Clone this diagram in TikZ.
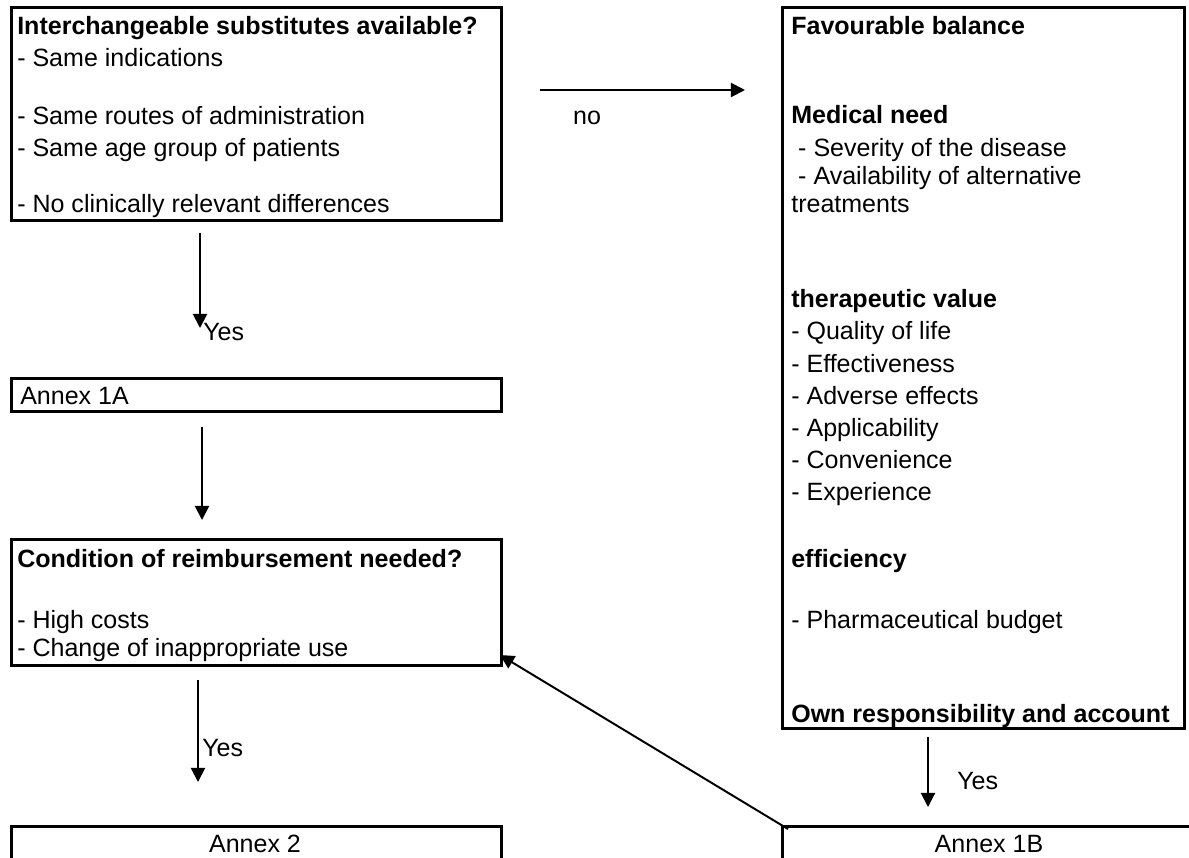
\documentclass[tikz,border=0pt]{standalone}
\usepackage{fontspec}
\setmainfont{Liberation Sans}
\usetikzlibrary{arrows.meta}

\begin{document}
\begin{tikzpicture}[
    x=0.025cm, y=-0.025cm,
    % Define styles
    box/.style={
        rectangle,
        draw,
        line width=1.9pt,
        inner sep=0pt,
        anchor=north west
    },
    plaintext/.style={
        anchor=base west,
        inner sep=0pt,
        font=\fontsize{17.8pt}{21pt}\selectfont
    },
    headtext/.style={
        plaintext,
        font=\fontsize{17.8pt}{21pt}\selectfont\bfseries
    },
    arrow/.style={
        -{Triangle[length=10pt,width=10pt]},
        line width=1.4pt
    }
]

% Variables
\def\pxu{0.025cm}
\def\leftx{17}
\def\rightx{791}

% Page
\clip (0,0) rectangle (1189,857);

% Left column boxes
\node[box, minimum width=490*\pxu, minimum height=213*\pxu] (subst) at (10,6) {};
\node[box, minimum width=490*\pxu, minimum height=33*\pxu] (annexa) at (10,377) {};
\node[box, minimum width=490*\pxu, minimum height=126*\pxu] (cond) at (10,538) {};
\node[box, minimum width=490*\pxu, minimum height=80*\pxu] (annextwo) at (10,825) {};

% Right column boxes
\node[box, minimum width=402*\pxu, minimum height=721*\pxu] (balance) at (781,6) {};
\node[box, minimum width=440*\pxu, minimum height=80*\pxu] (annexb) at (781,825) {};

% Substitutes
\node[headtext] (substhead) at (\leftx,34) {Interchangeable substitutes available?};
\node[plaintext] (substind) at (\leftx,66) {- Same indications};
\node[plaintext] (substroute) at (\leftx,124) {- Same routes of administration};
\node[plaintext] (substage) at (\leftx,156) {- Same age group of patients};
\node[plaintext] (substdiff) at (\leftx,212) {- No clinically relevant differences};

% Annex 1A
\node[plaintext] (annexatext) at (20,404) {Annex 1A};

% Condition of reimbursement
\node[headtext] (condhead) at (\leftx,567) {Condition of reimbursement needed?};
\node[plaintext] (condcost) at (\leftx,628) {- High costs};
\node[plaintext] (conduse) at (\leftx,656) {- Change of inappropriate use};

% Annex 2
\node[plaintext, anchor=base] (annextwotext) at (255,852) {Annex 2};

% Favourable balance
\node[headtext] (balhead) at (\rightx,34) {Favourable balance};
\node[headtext] (medhead) at (\rightx,123) {Medical need};
\node[plaintext] (medsev) at (\rightx,156) {\ - Severity of the disease};
\node[plaintext] (medalt) at (\rightx,184) {\ - Availability of alternative};
\node[plaintext] (medtreat) at (\rightx,212) {treatments};
\node[headtext] (thervalue) at (\rightx,307) {therapeutic value};
\node[plaintext] (therlife) at (\rightx,339) {- Quality of life};
\node[plaintext] (thereff) at (\rightx,372) {- Effectiveness};
\node[plaintext] (theradv) at (\rightx,404) {- Adverse effects};
\node[plaintext] (therapp) at (\rightx,436) {- Applicability};
\node[plaintext] (thercon) at (\rightx,468) {- Convenience};
\node[plaintext] (therexp) at (\rightx,500) {- Experience};
\node[headtext] (effhead) at (\rightx,567) {efficiency};
\node[plaintext] (effbudget) at (\rightx,628) {- Pharmaceutical budget};
\node[headtext] (ownhead) at (\rightx,722) {Own responsibility and account};

% Annex 1B
\node[plaintext, anchor=base] (annexbtext) at (989,852) {Annex 1B};

% Arrows
\coordinate (noS) at (540,90);
\coordinate (noE) at (745,90);
\draw[arrow] (noS) -- (noE);
\node[plaintext, anchor=base] (notext) at (587,124) {no};

\coordinate (yesaS) at (200,233);
\coordinate (yesaE) at (200,328);
\draw[arrow] (yesaS) -- (yesaE);
\node[plaintext] (yesa) at (203,340) {Yes};

\coordinate (annexaS) at (202,427);
\coordinate (annexaE) at (202,520);
\draw[arrow] (annexaS) -- (annexaE);

\coordinate (yesbS) at (198,680);
\coordinate (yesbE) at (198,782);
\draw[arrow] (yesbS) -- (yesbE);
\node[plaintext] (yesb) at (202,756) {Yes};

\coordinate (yescS) at (928,737);
\coordinate (yescE) at (928,807);
\draw[arrow] (yescS) -- (yescE);
\node[plaintext] (yesc) at (957,789) {Yes};

\coordinate (backS) at (788,829);
\coordinate (backE) at (500,655);
\draw[arrow] (backS) -- (backE);

\end{tikzpicture}
\end{document}
